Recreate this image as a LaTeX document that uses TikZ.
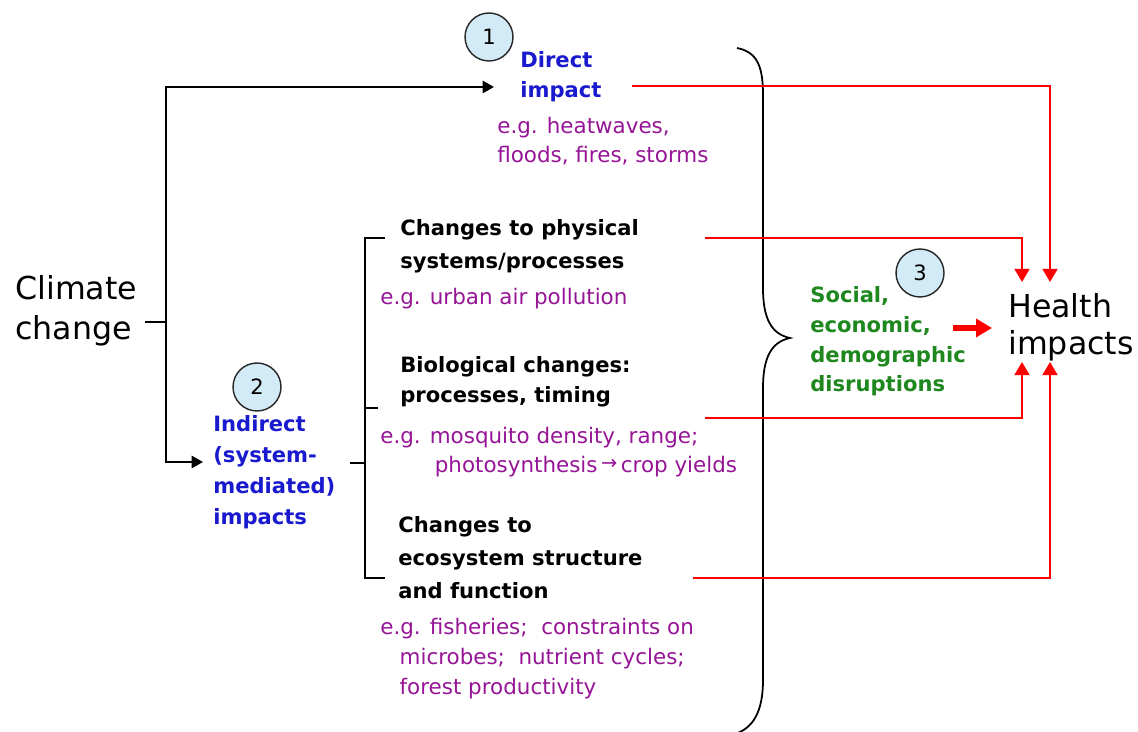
\documentclass[tikz,border=0pt]{standalone}
\usepackage{fontspec}
\setmainfont{DejaVu Sans}
\usetikzlibrary{arrows.meta}

\definecolor{impblue}{RGB}{25,25,205}
\definecolor{egpurple}{RGB}{150,20,150}
\definecolor{socgreen}{RGB}{30,135,30}
\definecolor{numfill}{RGB}{210,235,246}

\tikzset{
  txt/.style={anchor=base west, align=left, inner sep=0pt},
  bighead/.style={txt, font=\fontsize{18}{22.8}\selectfont},
  impact/.style={txt, font=\fontsize{12}{17.5}\selectfont\bfseries, text=impblue},
  system/.style={txt, font=\fontsize{12}{17.5}\selectfont\bfseries},
  example/.style={txt, font=\fontsize{12.2}{17}\selectfont, text=egpurple},
  social/.style={txt, font=\fontsize{12}{17}\selectfont\bfseries, text=socgreen},
  num/.style={circle, draw=black!85, line width=0.8pt, fill=numfill, minimum size=0.96cm,
    inner sep=0pt, font=\fontsize{12}{14}\selectfont},
  link/.style={black, line width=1.2pt},
  feed/.style={red, line width=1.3pt},
  linkarrow/.style={link, -{Triangle[length=6.5pt,width=7pt]}},
  feedarrow/.style={feed, -{Triangle[length=7.5pt,width=8.5pt]}},
}

\begin{document}
\begin{tikzpicture}[x=0.02cm, y=-0.02cm]
    \useasboundingbox (0,0) rectangle (1138,732);

    % left side (nodes sit on the baseline of their last line)
    \node[bighead] (climate) at (15,340) {Climate\\change};
    \node[impact] (direct) at (520,98) {Direct\\impact};
    \node[example] (egdirect) at (497,163) {e.g. heatwaves,\\floods, fires, storms};
    \node[impact] (indirect) at (213,524) {Indirect\\(system-\\mediated)\\impacts};

    % the three systems
    \node[system] (phys) at (400,269) {Changes to physical\\[1.5pt]systems/processes};
    \node[example] (egphys) at (380,305) {e.g. urban air pollution};
    \node[system] (bio) at (400,403) {Biological changes:\\processes, timing};
    \node[example] (egbio) at (380,473) {e.g. mosquito density, range;\\
        \hspace*{31pt}photosynthesis\,{\raisebox{2pt}{\fontsize{11}{11}\selectfont →}}\,crop yields};
    \node[system] (eco) at (398,598) {Changes to\\[1pt]ecosystem structure\\[1pt]and function};
    \node[example] (egeco) at (380,694) {e.g. fisheries;\ \ constraints on\\
        \hspace*{11pt}microbes;\ \ nutrient cycles;\\\hspace*{11pt}forest productivity};

    % right side
    \node[social] (social) at (810,392) {Social,\\economic,\\demographic\\disruptions};
    \node[txt, font=\fontsize{18}{21.6}\selectfont] (health) at (1008,355) {Health\\impacts};

    \node[num] (one) at (489,37) {1};
    \node[num] (two) at (257,387) {2};
    \node[num] (three) at (920,273) {3};

    % black connectors
    \coordinate (cc) at (145,322);
    \coordinate (fork) at (166,322);
    \coordinate (dtip) at (494,87);
    \coordinate (itip) at (203,462);
    \coordinate (istart) at (350,463);
    \coordinate (brk) at (365,463);
    \draw[link] (cc) -- (fork);
    \draw[linkarrow] (fork) |- (dtip);
    \draw[linkarrow] (fork) |- (itip);
    \draw[link] (istart) -- (brk);
    \draw[link] (385,238) -- (365,238) -- (365,578) -- (385,578);
    \draw[link] (365,408) -- (378,408);

    % big brace
    \draw[line width=1pt] (737,48) .. controls (757,52) and (763,66) .. (763,95)
        -- (763,288) .. controls (763,318) and (771,334) .. (790,338)
        .. controls (771,342) and (763,358) .. (763,388)
        -- (763,680) .. controls (763,712) and (753,728) .. (735,734);

    % red connectors
    \coordinate (r1) at (632,86);
    \coordinate (r2) at (705,238);
    \coordinate (r3) at (705,418);
    \coordinate (r4) at (693,578);
    \coordinate (ha) at (1022,282);
    \coordinate (hb) at (1050,282);
    \coordinate (hc) at (1022,362);
    \coordinate (hd) at (1050,362);
    \draw[feedarrow] (r1) -| (hb);
    \draw[feedarrow] (r2) -| (ha);
    \draw[feedarrow] (r3) -| (hc);
    \draw[feedarrow] (r4) -| (hd);
    \coordinate (s0) at (953,328);
    \coordinate (s1) at (992,328);
    \draw[red, line width=3pt, -{Triangle[length=9pt,width=10pt]}] (s0) -- (s1);
\end{tikzpicture}
\end{document}
